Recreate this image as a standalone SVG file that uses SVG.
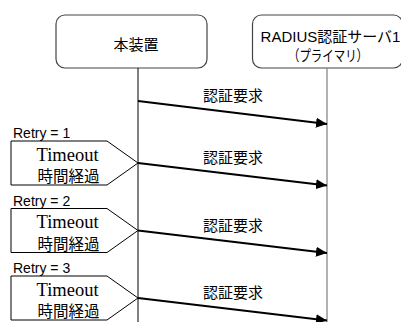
<svg xmlns="http://www.w3.org/2000/svg" width="401" height="322" viewBox="0 0 401 322">
<defs>
<style>
.box{fill:#fff;stroke:#444;stroke-width:1.2}
.jp{font-family:"Liberation Sans","Noto Sans CJK JP",sans-serif;font-size:15px;fill:#000}
.retry{font-family:"Liberation Sans",Arial,sans-serif;font-size:14px;fill:#000}
.to{font-family:"Liberation Serif","Times New Roman",serif;font-size:18.5px;fill:#000;text-anchor:middle}
.tj{font-family:"Noto Sans CJK JP",sans-serif;font-size:15.5px;fill:#000;text-anchor:middle}
.pent{fill:#fff;stroke:#000;stroke-width:1}
.msg{stroke:#000;stroke-width:2;fill:none}
</style>
<marker id="ah" markerUnits="userSpaceOnUse" markerWidth="12" markerHeight="10" refX="11" refY="5" orient="auto">
<path d="M0,0 L11,5 L0,10 Z" fill="#000"/>
</marker>
</defs>
<g id="node-device">
<rect class="box" x="56" y="15" width="151" height="53" rx="9"/>
<text class="jp" x="136" y="50" text-anchor="middle" font-size="16">本装置</text>
</g>
<g id="node-radius">
<rect class="box" x="252.5" y="15" width="150" height="53" rx="9"/>
<text class="jp" x="330.5" y="42" text-anchor="middle">RADIUS認証サーバ1</text>
<text class="jp" x="328" y="60.5" text-anchor="middle" textLength="80" lengthAdjust="spacingAndGlyphs">（プライマリ）</text>
</g>
<g id="lifelines">
<line x1="138" y1="68" x2="138" y2="322" stroke="#000" stroke-width="1"/>
<line x1="327" y1="68" x2="327" y2="322" stroke="#888" stroke-width="1.3"/>
</g>
<g id="timeout1">
<text class="retry" x="13" y="138">Retry = 1</text>
<path class="pent" d="M11,141 H107 L138,163 L107,185 H11 Z"/>
<text class="to" x="67.5" y="160.5">Timeout</text>
<text class="tj" x="68.5" y="182">時間経過</text>
</g>
<g id="timeout2">
<text class="retry" x="13" y="205.5">Retry = 2</text>
<path class="pent" d="M11,208.5 H107 L138,230.5 L107,252.5 H11 Z"/>
<text class="to" x="67.5" y="228">Timeout</text>
<text class="tj" x="68.5" y="249.5">時間経過</text>
</g>
<g id="timeout3">
<text class="retry" x="13" y="273">Retry = 3</text>
<path class="pent" d="M11,276 H107 L138,298 L107,320 H11 Z"/>
<text class="to" x="67.5" y="295.5">Timeout</text>
<text class="tj" x="68.5" y="317">時間経過</text>
</g>
<g id="connectors">
<line class="msg" x1="138" y1="101" x2="327" y2="124" marker-end="url(#ah)"/>
<line class="msg" x1="138" y1="163" x2="327" y2="185.5" marker-end="url(#ah)"/>
<line class="msg" x1="138" y1="230.5" x2="327" y2="253" marker-end="url(#ah)"/>
<line class="msg" x1="138" y1="298" x2="327" y2="320.5" marker-end="url(#ah)"/>
<text class="jp" x="233" y="101" text-anchor="middle">認証要求</text>
<text class="jp" x="233" y="163" text-anchor="middle">認証要求</text>
<text class="jp" x="233" y="230.5" text-anchor="middle">認証要求</text>
<text class="jp" x="233" y="297.5" text-anchor="middle">認証要求</text>
</g>
</svg>
